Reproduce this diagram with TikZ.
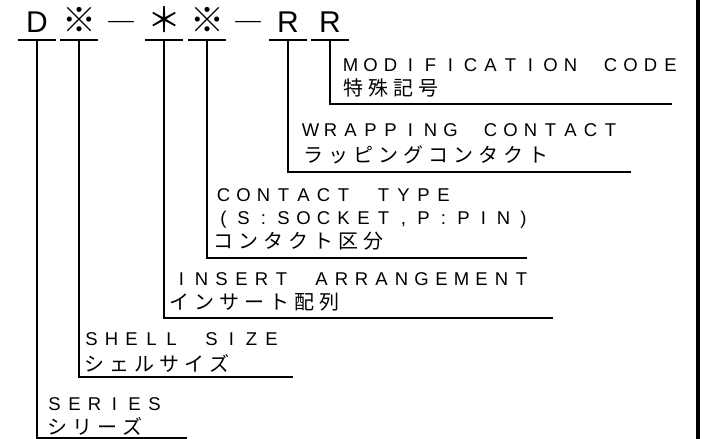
\documentclass[tikz,border=0pt]{standalone}
\usepackage{fontspec}
\setmainfont{Liberation Sans}
\newfontfamily\jpfont{Noto Sans CJK JP}
\usetikzlibrary{calc}

% fixed pitch lettering, one cell per character
\ExplSyntaxOn
\newcommand\pitched[2]{\str_map_inline:nn{#2}{\makebox[#1]{##1}}}
\ExplSyntaxOff
\newcommand\en[1]{\pitched{20pt}{#1}}
\newcommand\jp[1]{{\jpfont\pitched{25pt}{#1}}}

\begin{document}
\begin{tikzpicture}[x=1pt,y=-1pt,line width=1.1pt,
		codechar/.style={anchor=south,inner xsep=0pt,inner ysep=7pt,minimum width=37pt,text depth=0pt},
		codelatin/.style={codechar,font=\fontsize{30}{30}\selectfont},
		codejp/.style={codechar,font=\fontsize{34}{34}\selectfont\jpfont},
		entext/.style={anchor=west,inner sep=0pt,font=\fontsize{18.5}{18.5}\selectfont,text height=13pt,text depth=0pt},
		jptext/.style={anchor=west,inner sep=0pt,font=\fontsize{20}{20}\selectfont\jpfont,text height=17pt,text depth=2.5pt}]
		\useasboundingbox (0,0) rectangle (715,439);

		% part number
		\node[codelatin] (cSeries) at (37,40) {D};
		\node[codejp] (cShell) at (79,40) {※};
		\node[anchor=base,inner sep=0pt,font=\fontsize{30}{30}\selectfont\jpfont] (dashA) at (121,33) {―};
		\node[codejp] (cInsert) at (164,40) {＊};
		\node[codejp] (cContact) at (207,40) {※};
		\node[anchor=base,inner sep=0pt,font=\fontsize{30}{30}\selectfont\jpfont] (dashB) at (248,33) {―};
		\node[codelatin] (cWrap) at (288,40) {R};
		\node[codelatin] (cMod) at (330,40) {R};
		\foreach \n in {cSeries,cShell,cInsert,cContact,cWrap,cMod} {
			\draw[line width=1.4pt] (\n.south west) -- (\n.south east);
		}

		% labels
		\node[entext] (modEn) at (340,65) {\en{MODIFICATION CODE}};
		\node[jptext] (modJp) at (340,88) {\jp{特殊記号}};
		\node[entext] (wrapEn) at (300,130) {\en{WRAPPING CONTACT}};
		\node[jptext] (wrapJp) at (300,155) {\jp{ラッピングコンタクト}};
		\node[entext] (contactEn) at (213,195) {\en{CONTACT TYPE}};
		\node[entext] (contactPin) at (213,218) {\en{(S:SOCKET,P:PIN)}};
		\node[jptext] (contactJp) at (210,241) {\jp{コンタクト区分}};
		\node[entext] (insertEn) at (171,279) {\en{INSERT ARRANGEMENT}};
		\node[jptext] (insertJp) at (166,302) {\jp{インサート配列}};
		\node[entext] (shellEn) at (81,339) {\en{SHELL SIZE}};
		\node[jptext] (shellJp) at (81,364) {\jp{シェルサイズ}};
		\node[entext] (seriesEn) at (44,404) {\en{SERIES}};
		\node[jptext] (seriesJp) at (44,427) {\jp{シリーズ}};

		% leaders
		\coordinate (modEnd) at (672,104);
		\coordinate (wrapEnd) at (631,172);
		\coordinate (contactEnd) at (527,258);
		\coordinate (insertEnd) at (553,318);
		\coordinate (shellEnd) at (293,377);
		\coordinate (seriesEnd) at (187,438);
		\foreach \c/\e in {cMod/modEnd,cWrap/wrapEnd,cContact/contactEnd,cInsert/insertEnd,cShell/shellEnd,cSeries/seriesEnd} {
			\draw (\c.south) |- (\e);
		}

		\draw[line width=4pt] (698,0) -- (698,439);
	\end{tikzpicture}
\end{document}
